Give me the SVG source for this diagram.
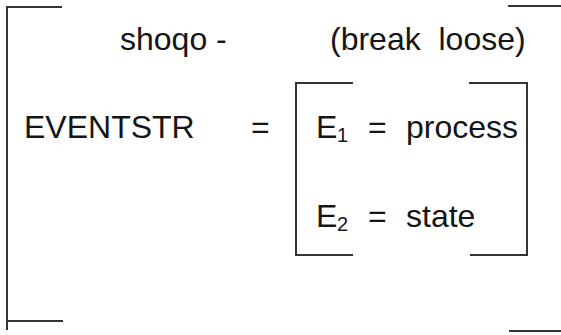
<svg xmlns="http://www.w3.org/2000/svg" width="561" height="335" viewBox="0 0 561 335">
<style>
.t{font-family:"Liberation Sans",Arial,sans-serif;font-size:32px;fill:#151515;white-space:pre}
.s{font-family:"Liberation Sans",Arial,sans-serif;font-size:20px;fill:#151515}
.b{fill:none;stroke:#333;stroke-width:2}
</style>
<rect width="561" height="335" fill="#fff"/>
<g id="outer-bracket">
<path class="b" d="M62,7 H7 V330 M7,321 H63"/>
<path class="b" d="M508,6 H561 M509,331 H561"/>
</g>
<g id="header">
<text class="t" x="120" y="49.5">shoqo -</text>
<text class="t" x="330" y="49.5" xml:space="preserve">(break  loose)</text>
</g>
<g id="eventstr">
<text class="t" x="24" y="137.5">EVENTSTR</text>
<text class="t" x="251" y="137.5">=</text>
</g>
<g id="inner-bracket">
<path class="b" d="M353,83 H296 V255 H353 M469,83 H527 V255 H470"/>
</g>
<g id="e1">
<text class="t" x="316" y="137.5">E</text>
<text class="s" x="337" y="141.5">1</text>
<text class="t" x="368" y="137.5">=</text>
<text class="t" x="406" y="137.5">process</text>
</g>
<g id="e2">
<text class="t" x="316" y="227">E</text>
<text class="s" x="337" y="231">2</text>
<text class="t" x="368" y="227">=</text>
<text class="t" x="406" y="227">state</text>
</g>
</svg>
